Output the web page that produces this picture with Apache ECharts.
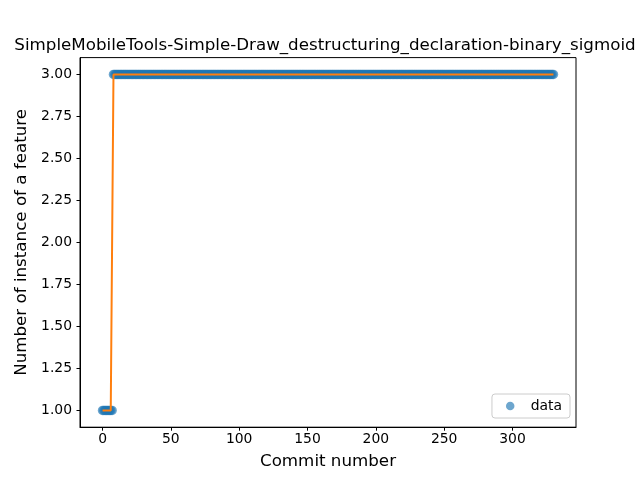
<!DOCTYPE html>
<html>
<head>
<meta charset="utf-8">
<script src="https://cdn.jsdelivr.net/npm/echarts@6/dist/echarts.min.js"></script>
<style>
  html, body { margin: 0; padding: 0; background: #fff; }
  #chart { width: 640px; height: 480px; }
</style>
</head>
<body>
<div id="chart"></div>
<script>
// commit numbers 0..330
var commits = [
  0,1,2,3,4,5,6,7,8,9,10,11,12,13,14,15,16,17,18,19,20,21,22,23,24,25,26,27,28,29,
  30,31,32,33,34,35,36,37,38,39,40,41,42,43,44,45,46,47,48,49,50,51,52,53,54,55,56,57,58,59,
  60,61,62,63,64,65,66,67,68,69,70,71,72,73,74,75,76,77,78,79,80,81,82,83,84,85,86,87,88,89,
  90,91,92,93,94,95,96,97,98,99,100,101,102,103,104,105,106,107,108,109,110,111,112,113,114,115,116,117,118,119,
  120,121,122,123,124,125,126,127,128,129,130,131,132,133,134,135,136,137,138,139,140,141,142,143,144,145,146,147,148,149,
  150,151,152,153,154,155,156,157,158,159,160,161,162,163,164,165,166,167,168,169,170,171,172,173,174,175,176,177,178,179,
  180,181,182,183,184,185,186,187,188,189,190,191,192,193,194,195,196,197,198,199,200,201,202,203,204,205,206,207,208,209,
  210,211,212,213,214,215,216,217,218,219,220,221,222,223,224,225,226,227,228,229,230,231,232,233,234,235,236,237,238,239,
  240,241,242,243,244,245,246,247,248,249,250,251,252,253,254,255,256,257,258,259,260,261,262,263,264,265,266,267,268,269,
  270,271,272,273,274,275,276,277,278,279,280,281,282,283,284,285,286,287,288,289,290,291,292,293,294,295,296,297,298,299,
  300,301,302,303,304,305,306,307,308,309,310,311,312,313,314,315,316,317,318,319,320,321,322,323,324,325,326,327,328,329,
  330
];

// observed feature counts per commit
var dataValues = [
  1,1,1,1,1,1,1,1,3,3,3,3,3,3,3,3,3,3,3,3,3,3,3,3,3,3,3,3,3,3,
  3,3,3,3,3,3,3,3,3,3,3,3,3,3,3,3,3,3,3,3,3,3,3,3,3,3,3,3,3,3,
  3,3,3,3,3,3,3,3,3,3,3,3,3,3,3,3,3,3,3,3,3,3,3,3,3,3,3,3,3,3,
  3,3,3,3,3,3,3,3,3,3,3,3,3,3,3,3,3,3,3,3,3,3,3,3,3,3,3,3,3,3,
  3,3,3,3,3,3,3,3,3,3,3,3,3,3,3,3,3,3,3,3,3,3,3,3,3,3,3,3,3,3,
  3,3,3,3,3,3,3,3,3,3,3,3,3,3,3,3,3,3,3,3,3,3,3,3,3,3,3,3,3,3,
  3,3,3,3,3,3,3,3,3,3,3,3,3,3,3,3,3,3,3,3,3,3,3,3,3,3,3,3,3,3,
  3,3,3,3,3,3,3,3,3,3,3,3,3,3,3,3,3,3,3,3,3,3,3,3,3,3,3,3,3,3,
  3,3,3,3,3,3,3,3,3,3,3,3,3,3,3,3,3,3,3,3,3,3,3,3,3,3,3,3,3,3,
  3,3,3,3,3,3,3,3,3,3,3,3,3,3,3,3,3,3,3,3,3,3,3,3,3,3,3,3,3,3,
  3,3,3,3,3,3,3,3,3,3,3,3,3,3,3,3,3,3,3,3,3,3,3,3,3,3,3,3,3,3,
  3
];

// fitted sigmoid (reads as a step at this scale)
var fitValues = [
  1,1,1,1,1,1,1,1,3,3,3,3,3,3,3,3,3,3,3,3,3,3,3,3,3,3,3,3,3,3,
  3,3,3,3,3,3,3,3,3,3,3,3,3,3,3,3,3,3,3,3,3,3,3,3,3,3,3,3,3,3,
  3,3,3,3,3,3,3,3,3,3,3,3,3,3,3,3,3,3,3,3,3,3,3,3,3,3,3,3,3,3,
  3,3,3,3,3,3,3,3,3,3,3,3,3,3,3,3,3,3,3,3,3,3,3,3,3,3,3,3,3,3,
  3,3,3,3,3,3,3,3,3,3,3,3,3,3,3,3,3,3,3,3,3,3,3,3,3,3,3,3,3,3,
  3,3,3,3,3,3,3,3,3,3,3,3,3,3,3,3,3,3,3,3,3,3,3,3,3,3,3,3,3,3,
  3,3,3,3,3,3,3,3,3,3,3,3,3,3,3,3,3,3,3,3,3,3,3,3,3,3,3,3,3,3,
  3,3,3,3,3,3,3,3,3,3,3,3,3,3,3,3,3,3,3,3,3,3,3,3,3,3,3,3,3,3,
  3,3,3,3,3,3,3,3,3,3,3,3,3,3,3,3,3,3,3,3,3,3,3,3,3,3,3,3,3,3,
  3,3,3,3,3,3,3,3,3,3,3,3,3,3,3,3,3,3,3,3,3,3,3,3,3,3,3,3,3,3,
  3,3,3,3,3,3,3,3,3,3,3,3,3,3,3,3,3,3,3,3,3,3,3,3,3,3,3,3,3,3,
  3
];

var xTicks = [0, 50, 100, 150, 200, 250, 300];
var yTicks = [1.00, 1.25, 1.50, 1.75, 2.00, 2.25, 2.50, 2.75, 3.00];

var titleText = "SimpleMobileTools-Simple-Draw_destructuring_declaration-binary_sigmoid";

var scatterData = commits.map(function (c, i) { return [c, dataValues[i]]; });
var fitData = commits.map(function (c, i) { return [c, fitValues[i]]; });

var font = "DejaVu Sans";
var chart = echarts.init(document.getElementById("chart"));
chart.setOption({
  animation: false,
  backgroundColor: "#ffffff",
  textStyle: { fontFamily: font },
  title: {
    text: titleText,
    left: 320,
    top: 32,
    textAlign: "center",
    textStyle: { fontFamily: font, fontSize: 16.7, fontWeight: "normal", color: "#000" }
  },
  grid: {
    left: 80, right: 64, top: 57.6, bottom: 52.8,
    show: true, borderColor: "#000", borderWidth: 1,
    containLabel: false
  },
  legend: {
    data: ["data"],
    right: 70,
    bottom: 62,
    orient: "vertical",
    icon: "circle",
    itemWidth: 31,
    itemHeight: 8.5,
    padding: [5, 8, 5, 14],
    borderColor: "#cccccc",
    borderWidth: 1,
    borderRadius: 3,
    backgroundColor: "rgba(255,255,255,0.8)",
    textStyle: { fontFamily: font, fontSize: 13.9, color: "#000" }
  },
  xAxis: {
    type: "value",
    min: -16.5,
    max: 346.5,
    name: "Commit number",
    nameLocation: "middle",
    nameGap: 26,
    nameTextStyle: { fontFamily: font, fontSize: 16.7, color: "#000" },
    axisLine: { show: true, onZero: false, lineStyle: { color: "#000", width: 1 } },
    axisTick: { show: true, inside: false, length: 3.5, customValues: xTicks, lineStyle: { color: "#000" } },
    axisLabel: { margin: 5, customValues: xTicks, color: "#000", fontSize: 13.9, fontFamily: font },
    splitLine: { show: false }
  },
  yAxis: {
    type: "value",
    min: 0.9,
    max: 3.1,
    name: "Number of instance of a feature",
    nameLocation: "middle",
    nameGap: 50,
    nameTextStyle: { fontFamily: font, fontSize: 16.7, color: "#000" },
    axisLine: { show: true, onZero: false, lineStyle: { color: "#000", width: 1 } },
    axisTick: { show: true, inside: false, length: 3.5, customValues: yTicks, lineStyle: { color: "#000" } },
    axisLabel: {
      margin: 8, customValues: yTicks, color: "#000", fontSize: 13.9, fontFamily: font,
      formatter: function (v) { return v.toFixed(2); }
    },
    splitLine: { show: false }
  },
  series: [
    {
      name: "data",
      type: "scatter",
      data: scatterData,
      symbol: "circle",
      symbolSize: 9.5,
      itemStyle: { color: "#1f77b4", opacity: 0.65 },
      z: 2
    },
    {
      name: "fit",
      type: "line",
      data: fitData,
      showSymbol: false,
      symbol: "none",
      lineStyle: { color: "#ff7f0e", width: 2 },
      itemStyle: { color: "#ff7f0e" },
      z: 3
    }
  ]
});
</script>
</body>
</html>
